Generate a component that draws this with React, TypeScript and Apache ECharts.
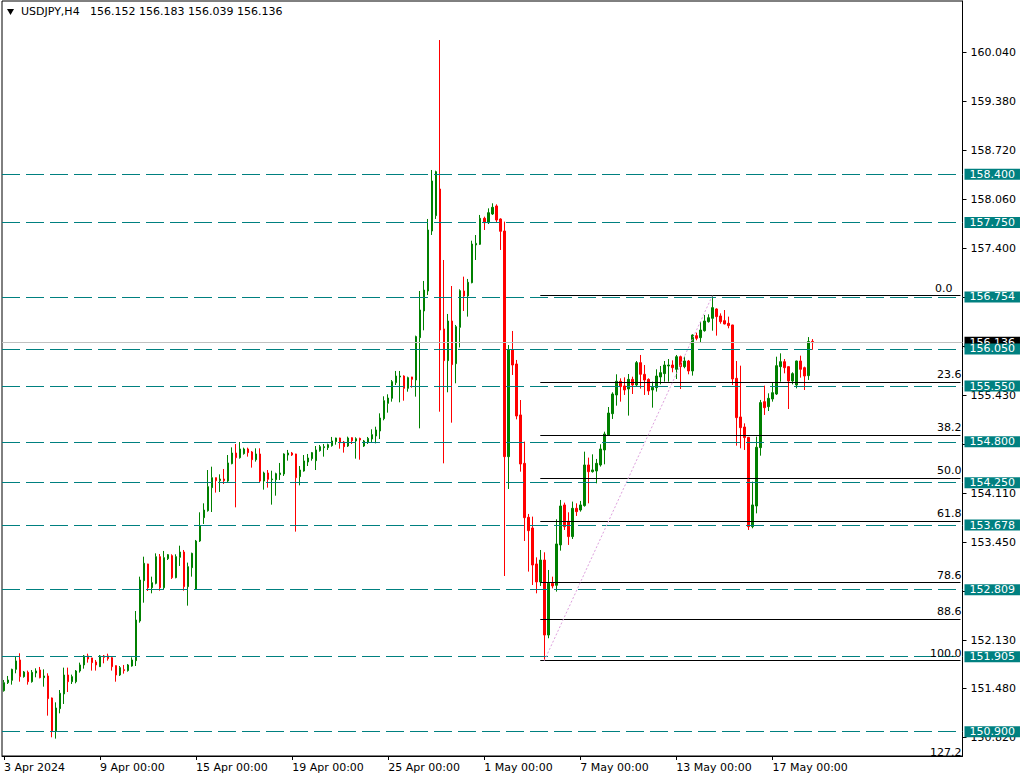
import React, { useEffect, useRef } from "react";
import * as echarts from "echarts";

// ---- categories (H4 bars, 6 per trading day) ----
const tradingDays = [
  "3 Apr", "4 Apr", "5 Apr", "8 Apr", "9 Apr", "10 Apr", "11 Apr", "12 Apr",
  "15 Apr", "16 Apr", "17 Apr", "18 Apr", "19 Apr", "22 Apr", "23 Apr", "24 Apr",
  "25 Apr", "26 Apr", "29 Apr", "30 Apr", "1 May", "2 May", "3 May", "6 May",
  "7 May", "8 May", "9 May", "10 May", "13 May", "14 May", "15 May", "16 May",
  "17 May", "20 May", "21 May", "22 May", "23 May", "24 May", "27 May", "28 May",
];
const barHours = ["00:00", "04:00", "08:00", "12:00", "16:00", "20:00"];
const firstDateLabel = "3 Apr 2024";
const symbolTitle = "USDJPY,H4";
const lastQuote = ["156.152", "156.183", "156.039", "156.136"];

// ---- price axis ----
const yMin = 150.573;
const yMax = 160.732;
const yTicks = [160.04, 159.38, 158.72, 158.06, 157.4, 156.74, 156.08, 155.43, 154.77, 154.11, 153.45, 152.79, 152.13, 151.48, 150.82];
// tick labels that are not hidden behind the level tags
const yTickLabels = [160.04, 159.38, 158.72, 158.06, 157.4, 155.43, 154.11, 153.45, 152.13, 151.48, 150.82];

// ---- horizontal levels ----
const levelLines = [158.4, 157.75, 156.754, 156.05, 155.55, 154.8, 154.25, 153.678, 152.809, 151.905, 150.9];
const currentPrice = 156.136;

// ---- fibonacci ----
const fibRatios = [0, 23.6, 38.2, 50, 61.8, 78.6, 88.6, 100];
const fibExtension = 127.2;
const fibHigh = 156.767;
const fibLow = 151.855;
const fibStartBar = 134;
const fibLowBar = 135;
const fibHighBar = 177;

// ---- bars: [open, high, low, close] ----
const barsApr03 = [
  [151.452, 151.596, 151.439, 151.56], [151.56, 151.65, 151.542, 151.596], [151.591, 151.748, 151.533, 151.739],
  [151.739, 151.91, 151.686, 151.852], [151.865, 151.955, 151.573, 151.641], [151.641, 151.717, 151.627, 151.704],
  [151.699, 151.722, 151.533, 151.573], [151.573, 151.73, 151.56, 151.699], [151.69, 151.753, 151.632, 151.717],
  [151.73, 151.771, 151.618, 151.627], [151.627, 151.739, 151.506, 151.65], [151.65, 151.686, 151.116, 151.345],
  [151.354, 151.36, 150.825, 150.91], [150.91, 151.295, 150.807, 151.219], [151.21, 151.461, 151.147, 151.417],
  [151.408, 151.762, 151.273, 151.663], [151.663, 151.762, 151.434, 151.573], [151.573, 151.668, 151.542, 151.641],
  [151.573, 151.73, 151.551, 151.717], [151.717, 151.829, 151.695, 151.798], [151.798, 151.932, 151.748, 151.919],
  [151.919, 151.95, 151.829, 151.878], [151.892, 151.895, 151.722, 151.829], [151.838, 151.865, 151.722, 151.798],
];
const barsApr09 = [
  [151.775, 151.932, 151.77, 151.919], [151.919, 151.932, 151.82, 151.901], [151.919, 151.95, 151.856, 151.883],
  [151.896, 151.91, 151.722, 151.775], [151.789, 151.792, 151.573, 151.663], [151.663, 151.784, 151.65, 151.762],
  [151.735, 151.798, 151.681, 151.722], [151.722, 151.811, 151.708, 151.798], [151.784, 151.901, 151.775, 151.865],
  [151.856, 152.524, 151.784, 152.403], [152.39, 152.986, 152.367, 152.941], [152.932, 153.255, 152.636, 153.166],
  [153.157, 153.16, 152.793, 152.838], [152.838, 152.986, 152.762, 152.905], [152.896, 153.3, 152.883, 153.255],
  [153.255, 153.291, 152.798, 152.838], [152.838, 153.332, 152.807, 153.242], [153.228, 153.291, 153.21, 153.282],
  [153.269, 153.287, 152.955, 152.973], [152.973, 153.287, 152.964, 153.255], [153.246, 153.403, 153.13, 153.318],
  [153.318, 153.345, 152.798, 152.852], [152.852, 153.175, 152.596, 153.121], [153.107, 153.309, 152.986, 153.3],
];
const barsApr15 = [
  [152.816, 153.48, 152.807, 153.466], [153.466, 153.852, 153.453, 153.668], [153.78, 153.973, 153.695, 153.883],
  [153.874, 154.421, 153.861, 154.197], [154.184, 154.466, 153.856, 154.318], [154.318, 154.32, 154.117, 154.278],
  [154.278, 154.363, 154.126, 154.3], [154.3, 154.435, 154.233, 154.278], [154.273, 154.623, 154.26, 154.516],
  [154.507, 154.726, 154.498, 154.65], [154.65, 154.771, 153.919, 154.587], [154.587, 154.798, 154.574, 154.704],
  [154.641, 154.722, 154.628, 154.704], [154.704, 154.722, 154.601, 154.655], [154.664, 154.677, 154.453, 154.56],
  [154.56, 154.713, 154.534, 154.637], [154.637, 154.713, 154.251, 154.273], [154.273, 154.399, 154.157, 154.381],
  [154.381, 154.421, 154.184, 154.296], [154.291, 154.412, 153.955, 154.3], [154.291, 154.385, 154.076, 154.372],
  [154.359, 154.516, 154.287, 154.381], [154.368, 154.646, 154.341, 154.637], [154.623, 154.691, 154.547, 154.65],
];
const barsApr19 = [
  [154.65, 154.664, 154.61, 154.623], [154.637, 154.64, 153.592, 154.318], [154.332, 154.475, 154.215, 154.421],
  [154.408, 154.623, 154.399, 154.543], [154.529, 154.637, 154.475, 154.583], [154.574, 154.664, 154.547, 154.655],
  [154.547, 154.744, 154.421, 154.691], [154.682, 154.758, 154.668, 154.735], [154.722, 154.771, 154.601, 154.735],
  [154.722, 154.776, 154.691, 154.762], [154.749, 154.866, 154.735, 154.812], [154.803, 154.856, 154.762, 154.852],
  [154.852, 154.856, 154.708, 154.789], [154.798, 154.812, 154.655, 154.735], [154.744, 154.87, 154.731, 154.852],
  [154.856, 154.861, 154.771, 154.816], [154.812, 154.861, 154.574, 154.843], [154.847, 154.856, 154.56, 154.825],
  [154.744, 154.825, 154.731, 154.812], [154.798, 154.866, 154.771, 154.847], [154.838, 154.969, 154.785, 154.897],
  [154.879, 155.004, 154.78, 154.96], [154.946, 155.184, 154.838, 155.121], [155.112, 155.413, 155.09, 155.354],
];
const barsApr25 = [
  [155.318, 155.44, 155.193, 155.39], [155.386, 155.632, 155.341, 155.61], [155.597, 155.754, 155.565, 155.686],
  [155.673, 155.754, 155.332, 155.686], [155.686, 155.695, 155.354, 155.52], [155.52, 155.677, 155.475, 155.664],
  [155.673, 155.675, 155.529, 155.641], [155.632, 156.229, 155.408, 156.216], [156.202, 156.83, 154.982, 156.574],
  [156.561, 156.965, 156.301, 156.843], [156.83, 157.799, 156.776, 157.651], [157.637, 158.458, 157.584, 158.31],
  [157.844, 158.449, 157.799, 158.436], [158.202, 160.207, 155.206, 156.305], [156.319, 157.247, 154.511, 155.893],
  [155.893, 156.521, 155.467, 156.426], [156.426, 156.897, 155.058, 155.839], [155.852, 156.373, 155.588, 156.35],
  [156.341, 156.852, 156.07, 156.834], [156.83, 157.023, 156.561, 156.763], [156.763, 156.992, 156.485, 156.947],
  [156.942, 157.507, 156.933, 157.462], [157.449, 157.583, 157.247, 157.471], [157.458, 157.853, 157.449, 157.808],
];
const barsMay01 = [
  [157.808, 157.83, 157.651, 157.749], [157.749, 157.942, 157.731, 157.884], [157.866, 158.01, 157.853, 157.956],
  [157.974, 157.996, 157.749, 157.785], [157.799, 157.808, 157.382, 157.633], [157.637, 157.763, 152.995, 154.601],
  [154.601, 156.103, 154.166, 156.036], [156.036, 156.292, 155.7, 155.834], [155.848, 155.902, 155.103, 155.148],
  [155.162, 155.363, 154.399, 154.502], [154.511, 154.803, 153.466, 153.78], [153.785, 153.83, 153.054, 153.605],
  [153.641, 153.794, 152.874, 153.143], [153.157, 153.246, 152.762, 152.915], [152.915, 153.345, 152.861, 153.21],
  [153.21, 153.314, 151.855, 152.201], [152.201, 153.076, 152.157, 152.897], [152.897, 152.986, 152.829, 152.861],
  [152.87, 153.758, 152.785, 153.426], [153.413, 154.018, 153.336, 153.937], [153.951, 153.982, 153.614, 153.659],
  [153.731, 153.852, 153.413, 153.525], [153.525, 153.996, 153.493, 153.906], [153.906, 153.973, 153.803, 153.861],
];
const barsMay07 = [
  [153.883, 154.005, 153.861, 153.951], [153.942, 154.668, 153.928, 154.489], [154.489, 154.588, 153.973, 154.399],
  [154.399, 154.632, 154.386, 154.422], [154.408, 154.57, 154.242, 154.511], [154.489, 154.767, 154.467, 154.704],
  [154.691, 154.937, 154.498, 154.906], [154.893, 155.269, 154.884, 155.188], [155.179, 155.467, 155.108, 155.444],
  [155.431, 155.709, 155.287, 155.615], [155.615, 155.655, 155.341, 155.543], [155.552, 155.668, 155.431, 155.498],
  [155.512, 155.713, 155.153, 155.641], [155.641, 155.677, 155.444, 155.565], [155.565, 155.888, 155.543, 155.866],
  [155.866, 155.969, 155.516, 155.709], [155.709, 155.834, 155.431, 155.632], [155.641, 155.655, 155.431, 155.485],
  [155.498, 155.61, 155.26, 155.534], [155.529, 155.776, 155.476, 155.686], [155.673, 155.821, 155.574, 155.731],
  [155.718, 155.888, 155.61, 155.834], [155.821, 155.915, 155.61, 155.834], [155.834, 155.897, 155.736, 155.798],
];
const barsMay13 = [
  [155.776, 155.969, 155.646, 155.946], [155.946, 155.96, 155.511, 155.812], [155.812, 155.946, 155.79, 155.888],
  [155.888, 155.902, 155.709, 155.754], [155.754, 156.247, 155.691, 156.238], [156.229, 156.269, 156.166, 156.193],
  [156.202, 156.417, 156.139, 156.305], [156.296, 156.507, 156.283, 156.426], [156.417, 156.516, 156.404, 156.471],
  [156.462, 156.767, 156.296, 156.606], [156.588, 156.597, 156.229, 156.485], [156.494, 156.529, 156.39, 156.417],
  [156.431, 156.574, 156.382, 156.386], [156.395, 156.485, 156.328, 156.364], [156.373, 156.375, 155.565, 155.646],
  [155.655, 155.888, 154.749, 155.126], [155.135, 155.825, 154.713, 154.991], [155.0, 155.049, 154.691, 154.857],
  [154.861, 154.865, 153.614, 153.659], [153.659, 154.265, 153.637, 153.951], [153.937, 154.87, 153.838, 154.727],
  [154.722, 155.364, 154.614, 155.328], [155.341, 155.556, 155.162, 155.26], [155.274, 155.453, 155.215, 155.386],
];
const barsMay17 = [
  [155.377, 155.601, 155.341, 155.462], [155.444, 155.946, 155.431, 155.825], [155.812, 155.991, 155.61, 155.879],
  [155.879, 155.915, 155.722, 155.798], [155.812, 155.815, 155.242, 155.619], [155.619, 155.736, 155.574, 155.718],
  [155.565, 155.892, 155.52, 155.888], [155.888, 155.96, 155.664, 155.776], [155.798, 155.812, 155.498, 155.686],
  [155.691, 156.21, 155.633, 156.15], [156.152, 156.183, 156.039, 156.136],
];

const FONT = "DejaVu Sans";
const TEAL = "#008080";

export default function App() {
  const ref = useRef<HTMLDivElement>(null);

  useEffect(() => {
    if (!ref.current) return;
    const chart = echarts.init(ref.current, null, { renderer: "svg", width: 1027, height: 780 });

    const categories = tradingDays.flatMap((d) => barHours.map((h) => `${d} ${h}`));
    const bars = [
      ...barsApr03, ...barsApr09, ...barsApr15, ...barsApr19, ...barsApr25,
      ...barsMay01, ...barsMay07, ...barsMay13, ...barsMay17,
    ];
    const candleData = bars.map(([o, h, l, c]) => [o, c, l, h]);
    const showIdx = (i: number) => i % 24 === 0 && i < bars.length;
    const lastCat = categories[categories.length - 1];
    const fibPrice = (r: number) => fibHigh - (r / 100) * (fibHigh - fibLow);

    const fibLines = fibRatios.map((r) => {
      const p = fibPrice(r);
      return [
        {
          xAxis: categories[fibStartBar],
          yAxis: p,
          lineStyle: { color: "#000", type: "solid", width: 1 },
          label: {
            show: true,
            position: "insideEndTop",
            formatter: r.toFixed(1),
            color: "#000",
            fontFamily: FONT,
            fontSize: 11,
            distance: [-1, 2],
            padding: r === 0 ? [0, 9, 0, 0] : 0,
          },
        },
        { xAxis: lastCat, yAxis: p },
      ];
    });

    const option: any = {
      animation: false,
      backgroundColor: "#fff",
      textStyle: { fontFamily: FONT, fontSize: 11 },
      graphic: [
        { type: "polygon", shape: { points: [[7, 9], [14, 9], [10.5, 15]] }, style: { fill: "#000" } },
        { type: "text", x: 21, y: 6, style: { text: symbolTitle, fontFamily: FONT, fontSize: 11, fill: "#000" } },
        { type: "text", x: 90, y: 6, style: { text: lastQuote.join(" "), fontFamily: FONT, fontSize: 11, fill: "#000" } },
      ],
      grid: {
        left: 2, top: 1, width: 960.5, height: 755,
        show: true, borderColor: "#000", borderWidth: 1, backgroundColor: "transparent",
      },
      xAxis: {
        type: "category",
        data: categories,
        boundaryGap: true,
        axisLine: { lineStyle: { color: "#000", width: 1 } },
        axisTick: { show: true, interval: showIdx, alignWithLabel: true, length: 4, lineStyle: { color: "#000" } },
        axisLabel: {
          interval: showIdx,
          align: "left",
          color: "#000",
          fontFamily: FONT,
          fontSize: 11,
          margin: 6,
          formatter: (v: string, i: number) => (i === 0 ? firstDateLabel : v),
        },
        splitLine: { show: false },
      },
      yAxis: {
        type: "value",
        position: "right",
        min: yMin,
        max: yMax,
        scale: true,
        splitLine: { show: false },
        axisLine: { show: true, lineStyle: { color: "#000" } },
        axisTick: { show: true, length: 4, customValues: yTicks, lineStyle: { color: "#000" } },
        axisLabel: {
          customValues: yTickLabels,
          formatter: (v: number) => v.toFixed(3),
          color: "#000",
          fontFamily: FONT,
          fontSize: 11,
          margin: 8,
        },
      },
      series: [
        {
          type: "candlestick",
          data: candleData,
          barWidth: 2,
          silent: true,
          itemStyle: {
            color: "#008000",
            color0: "#ff0000",
            borderColor: "#008000",
            borderColor0: "#ff0000",
            borderWidth: 1,
          },
          markLine: {
            silent: true,
            symbol: ["none", "none"],
            animation: false,
            data: [
              {
                yAxis: currentPrice,
                lineStyle: { color: "#c0c0c0", type: "solid", width: 1 },
                label: {
                  position: "end", distance: 2, formatter: currentPrice.toFixed(3),
                  color: "#fff", backgroundColor: "#000", padding: [0, 5, 0, 5],
                  lineHeight: 11, fontFamily: FONT, fontSize: 11,
                },
              },
              ...levelLines.map((v) => ({
                yAxis: v,
                lineStyle: { color: TEAL, type: [18, 6], width: 1 },
                label: {
                  position: "end", distance: 2, formatter: v.toFixed(3),
                  color: "#fff", backgroundColor: TEAL, padding: [0, 5, 0, 5],
                  lineHeight: 11, fontFamily: FONT, fontSize: 11,
                },
              })),
              ...fibLines,
              [
                {
                  xAxis: categories[fibLowBar],
                  yAxis: fibLow,
                  lineStyle: { color: "#dda0dd", type: [2, 2], width: 1 },
                  label: { show: false },
                },
                { xAxis: categories[fibHighBar], yAxis: fibHigh },
              ],
            ],
          },
        },
      ],
    };

    chart.setOption(option);

    // 127.2 extension level lies just below the visible price range: only its tag shows
    const extPx = chart.convertToPixel({ gridIndex: 0 }, [lastCat, fibPrice(fibExtension)]) as number[];
    if (extPx && isFinite(extPx[0]) && isFinite(extPx[1])) {
      chart.setOption({
        graphic: [
          { type: "polygon", shape: { points: [[7, 9], [14, 9], [10.5, 15]] }, style: { fill: "#000" } },
          { type: "text", x: 21, y: 6, style: { text: symbolTitle, fontFamily: FONT, fontSize: 11, fill: "#000" } },
          { type: "text", x: 90, y: 6, style: { text: lastQuote.join(" "), fontFamily: FONT, fontSize: 11, fill: "#000" } },
          {
            type: "text",
            x: extPx[0] + 1,
            y: extPx[1] - 2,
            style: {
              text: fibExtension.toFixed(1), fontFamily: FONT, fontSize: 11, fill: "#000",
              align: "right", verticalAlign: "bottom",
            },
          },
        ],
      });
    }
    return () => chart.dispose();
  }, []);

  return (
    <div
      ref={ref}
      style={{ position: "fixed", left: 0, top: 0, width: 1027, height: 780, background: "#fff" }}
    />
  );
}
